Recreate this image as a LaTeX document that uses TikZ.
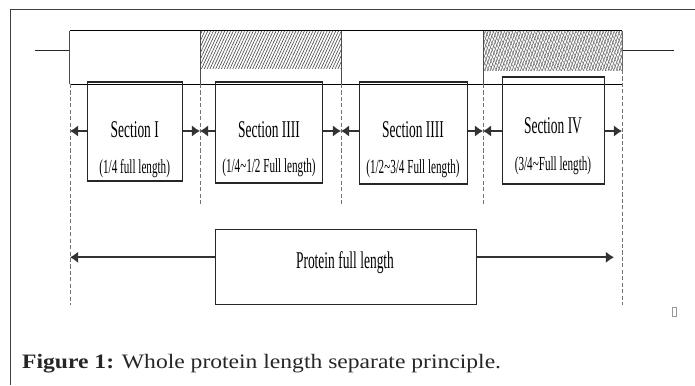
\documentclass[tikz,border=0pt]{standalone}
\usepackage{fontspec}
\setmainfont{Liberation Serif}
\newfontfamily\narrowserif[FakeStretch=0.56]{Liberation Serif}
\newfontfamily\captionserif[FakeStretch=1.15]{Liberation Serif}
\usepackage{xcolor}
\usepackage{tikz}
\usetikzlibrary{arrows.meta,patterns.meta}

\begin{document}
\begin{tikzpicture}[x=0.03cm,y=-0.03cm,>={Latex[length=7pt,width=10pt]},
    secbox/.style={draw=black!85,line width=0.9pt,inner sep=0pt},
    sectitle/.style={anchor=base,inner sep=0pt,font=\narrowserif\fontsize{20.5}{24}\selectfont},
    secsub/.style={anchor=base,inner sep=0pt,font=\narrowserif\fontsize{17}{20}\selectfont},
    guide/.style={black!55,line width=0.6pt,dash pattern=on 3.5pt off 2pt},
    secarrow/.style={->,black!80,line width=1.5pt}]
  \useasboundingbox (0,0) rectangle (695,385);

  % page frame
  \draw[black!75,line width=0.8pt] (10,385) -- (10,9) -- (695,9);

  % protein bar with the two hatched parts
  \fill[pattern={Lines[angle=65,distance=2.2pt,line width=0.55pt]},pattern color=black!70]
    (200,30.5) rectangle (341,68.3);
  \fill[pattern={Lines[angle=70,distance=2.2pt,line width=0.5pt]},pattern color=black!65]
    (483,30.5) rectangle (622,70);
  \fill[pattern={Lines[angle=-60,distance=2.8pt,line width=0.45pt]},pattern color=black!50]
    (483,30.5) rectangle (622,70);
  \draw[line width=0.9pt,black!85] (35,50.7) -- (69.5,50.7);
  \draw[line width=0.9pt,black!85] (622,50.7) -- (674,50.7);
  \draw[line width=0.9pt] (69.5,30.5) -- (622,30.5);
  \draw[line width=0.8pt] (69.5,84) -- (622,84);
  \foreach \x in {69.5,200,341,483}
    \draw[black!70,line width=0.6pt] (\x,30.5) -- (\x,84);
  \draw[black!60,line width=0.6pt] (622,30.5) -- (622,70);

  % dashed cut lines
  \coordinate (g0) at (70,84);
  \coordinate (g1) at (200,84);
  \coordinate (g2) at (341,84);
  \coordinate (g3) at (483,84);
  \coordinate (g4) at (622,70);
  \coordinate (g0e) at (70,305);
  \coordinate (g1e) at (200,205);
  \coordinate (g2e) at (341,205);
  \coordinate (g3e) at (483,205);
  \coordinate (g4e) at (622,305);
  \foreach \i in {0,...,4}
    \draw[guide] (g\i) -- (g\i e);

  % the four sections
  \node[secbox,minimum width=2.84cm,minimum height=2.97cm] (s1) at (134.7,131.5) {};
  \node[secbox,minimum width=3.2cm,minimum height=3.03cm] (s2) at (269,132.5) {};
  \node[secbox,minimum width=3.23cm,minimum height=3.06cm] (s3) at (413.2,133) {};
  \node[secbox,minimum width=3.06cm,minimum height=3.21cm] (s4) at (553.3,130.5) {};

  \node[sectitle] (t1) at (134.7,137) {Section I};
  \node[secsub] (u1) at (134.7,173) {(1/4 full length)};
  \node[sectitle] (t2) at (269,137) {Section IIII};
  \node[secsub] (u2) at (269,172.5) {(1/4\textasciitilde 1/2 Full length)};
  \node[sectitle] (t3) at (413,137) {Section IIII};
  \node[secsub] (u3) at (413,173) {(1/2\textasciitilde 3/4 Full length)};
  \node[sectitle] (t4) at (553,133) {Section IV};
  \node[secsub] (u4) at (553,170.5) {(3/4\textasciitilde Full length)};

  \coordinate (row) at (0,131);
  \draw[secarrow] (s1.west |- row) -- (g0 |- row);
  \draw[secarrow] (s1.east |- row) -- (g1 |- row);
  \draw[secarrow] (s2.west |- row) -- (g1 |- row);
  \draw[secarrow] (s2.east |- row) -- (g2 |- row);
  \draw[secarrow] (s3.west |- row) -- (g2 |- row);
  \draw[secarrow] (s3.east |- row) -- (g3 |- row);
  \draw[secarrow] (s4.west |- row) -- (g3 |- row);
  \draw[secarrow] (s4.east |- row) -- (g4 |- row);

  % full length
  \node[secbox,minimum width=7.81cm,minimum height=2.25cm] (pf) at (345.9,266.8) {};
  \node[sectitle] (pft) at (345,268.5) {Protein full length};
  \coordinate (pfrow) at (0,257.3);
  \coordinate (pfend) at (614,257.3);
  \draw[secarrow] (pf.west |- pfrow) -- (g0 |- pfrow);
  \draw[secarrow] (pf.east |- pfrow) -- (pfend);

  \draw[black!40,line width=0.5pt] (672.5,307) rectangle (676.5,316);

  \node[anchor=base west,inner sep=0pt,text=black!85,
    font=\captionserif\fontsize{17.5}{21}\selectfont] (caption) at (22,368)
    {\textbf{Figure 1:} Whole protein length separate principle.};
\end{tikzpicture}
\end{document}
